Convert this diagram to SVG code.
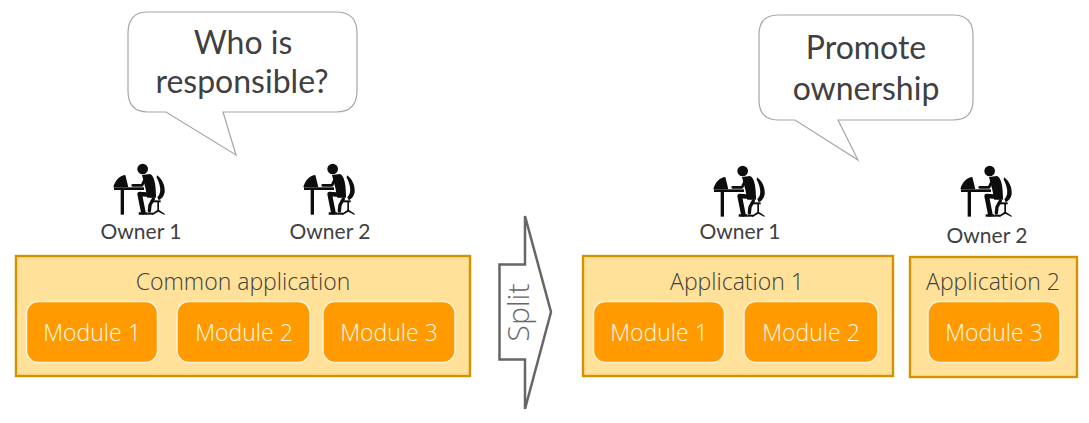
<svg xmlns="http://www.w3.org/2000/svg" width="1089" height="423" viewBox="0 0 1089 423">
<style>
.app{fill:#ffe199;stroke:#d39300;stroke-width:2.400}
.mod{fill:#ff9a00;stroke:#fff2d8;stroke-width:1.5}
.callout{fill:#fff;stroke:#a6a6a6;stroke-width:1.2}
.t{font-family:"Open Sans",sans-serif;font-weight:300;text-anchor:middle}
.apptext{font-size:23px;fill:#404040}
.modtext{font-size:23px;fill:#fff8e8}
.own{font-family:Lato,sans-serif;font-size:21px;fill:#404040;text-anchor:middle}
.call{font-family:Lato,sans-serif;font-size:32px;fill:#404040;text-anchor:middle}
.limb{fill:none;stroke:#0d0d0d;stroke-linecap:round;stroke-linejoin:round}
</style>
<defs>
<g id="person" fill="#0d0d0d">
<circle cx="128" cy="42" r="16"/>
<path d="M40 97C44 76 62 60 76 60L85 97Z"/>
<rect x="42" y="97" width="90" height="8"/>
<rect x="62" y="103" width="10" height="76"/>
<path d="M126 60L150 57C164 62 168 92 168 128L142 128L136 98Z"/>
<path class="limb" stroke-width="8" d="M136 70L126 91H98"/>
<path class="limb" stroke-width="14" d="M160 120L119 117L130 172"/>
<path d="M116 172H142L144 179H116Z"/>
<path class="limb" stroke-width="10" d="M160 132L150 150L148 168"/>
<path d="M143 173H160L160 179H143Z"/>
<path d="M171 61C187 72 196 92 194 112C192 124 185 132 176 136L172 126C180 120 182 108 180 96C178 84 174 74 170 68Z"/>
<rect x="152" y="136" width="30" height="6"/>
<rect x="172" y="140" width="5" height="26"/>
<path d="M156 176L173 164L176 164L194 176L194 180L175 170L158 180Z"/>
</g>
</defs>

<g id="connectors"></g>

<g id="callout-left">
<path class="callout" d="M148 12H336Q357 12 357 33V91Q357 112 336 112H223L236 155L166 112H148Q128 112 128 91V33Q128 12 148 12Z"/>
<text class="call" x="243" y="54">Who is</text>
<text class="call" x="242" y="93">responsible?</text>
</g>
<g id="callout-right">
<path class="callout" d="M778 15H953Q973 15 973 35V100Q973 120 953 120H838L858 160L795 120H778Q759 120 759 100V35Q759 15 778 15Z"/>
<text class="call" x="866" y="59">Promote</text>
<text class="call" x="866" y="100">ownership</text>
</g>

<g id="owner-1-left"><use href="#person" transform="translate(100 155) scale(.3333)"/><text class="own" x="141" y="239">Owner 1</text></g>
<g id="owner-2-left"><use href="#person" transform="translate(290 155) scale(.3333)"/><text class="own" x="330" y="239">Owner 2</text></g>
<g id="owner-1-right"><use href="#person" transform="translate(700 157) scale(.3333)"/><text class="own" x="740" y="239">Owner 1</text></g>
<g id="owner-2-right"><use href="#person" transform="translate(947 157) scale(.3333)"/><text class="own" x="987" y="243">Owner 2</text></g>

<g id="common-application">
<rect class="app" x="16" y="256" width="454" height="120"/>
<text class="t apptext" x="243" y="290">Common application</text>
</g>
<g id="module-1-left"><rect class="mod" x="26.500" y="301.500" width="131" height="61" rx="12"/><text class="t modtext" x="92" y="341">Module 1</text></g>
<g id="module-2-left"><rect class="mod" x="177" y="301.500" width="133" height="61" rx="12"/><text class="t modtext" x="244" y="341">Module 2</text></g>
<g id="module-3-left"><rect class="mod" x="323" y="301.500" width="132" height="61" rx="12"/><text class="t modtext" x="389" y="341">Module 3</text></g>

<g id="split">
<path d="M525 216V264.500H499.500V359.500H525V409L551 312Z" fill="#fff" stroke="#666" stroke-width="2.500"/>
<text class="t" transform="translate(529 312.500) rotate(-90)" font-size="30" fill="#666">Split</text>
</g>

<g id="application-1">
<rect class="app" x="583" y="256" width="310" height="120"/>
<text class="t apptext" x="737" y="290">Application 1</text>
</g>
<g id="module-1-right"><rect class="mod" x="593.500" y="301.500" width="131" height="61" rx="12"/><text class="t modtext" x="659" y="341">Module 1</text></g>
<g id="module-2-right"><rect class="mod" x="744" y="301.500" width="134" height="61" rx="12"/><text class="t modtext" x="811" y="341">Module 2</text></g>

<g id="application-2">
<rect class="app" x="910" y="257" width="167" height="120"/>
<text class="t apptext" x="993" y="290">Application 2</text>
</g>
<g id="module-3-right"><rect class="mod" x="928" y="301.500" width="132" height="61" rx="12"/><text class="t modtext" x="994" y="341">Module 3</text></g>
</svg>
